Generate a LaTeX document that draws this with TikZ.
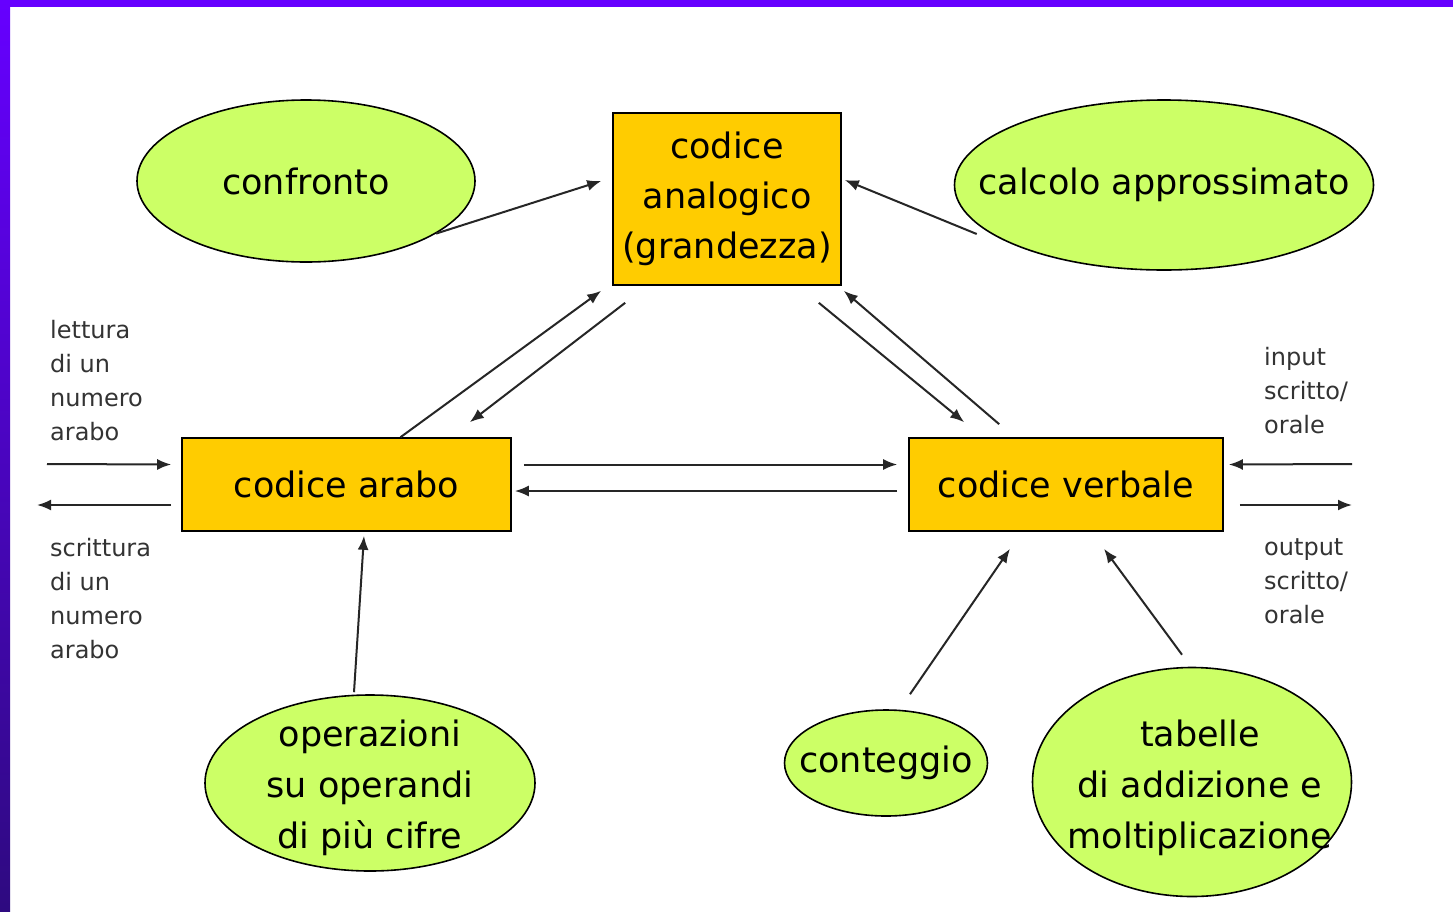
\documentclass[tikz,border=0pt]{standalone}
\usepackage{fontspec}
\setmainfont{DejaVu Sans}
\usetikzlibrary{shapes.geometric,arrows.meta,calc}
\definecolor{frameviolet}{HTML}{6600FF}
\definecolor{framedeep}{HTML}{2E0A80}
\definecolor{codeyellow}{HTML}{FFCC00}
\definecolor{blobgreen}{HTML}{CCFF66}
\tikzset{
  codebox/.style={draw=black,line width=1.6pt,fill=codeyellow,inner sep=0pt,
    align=center,font=\fontsize{35}{50}\selectfont},
  blob/.style={ellipse,draw=black,line width=1.6pt,fill=blobgreen,inner sep=0pt},
  blobtext/.style={align=center,inner sep=0pt,font=\fontsize{35}{51}\selectfont},
  note/.style={align=left,inner sep=0pt,anchor=north west,text=black!80,
    font=\fontsize{24}{34}\selectfont},
  link/.style={draw=black!85,line width=2pt,-{Latex[length=14pt,width=11pt]}}
}
\begin{document}
\begin{tikzpicture}[x=1pt,y=-1pt]
  \useasboundingbox (0,0) rectangle (1453,911);
  \fill[white] (0,0) rectangle (1453,911);
  % frame
  \fill[frameviolet] (0,0) rectangle (1453,7);
  \shade[top color=frameviolet,bottom color=framedeep] (0,0) rectangle (10,911);

  % codes
  \node[codebox,minimum width=228pt,minimum height=172pt] (ana) at (727,199)
    {codice\\analogico\\(grandezza)};
  \node[codebox,minimum width=329pt,minimum height=93pt] (arabo) at (346.5,484.5)
    {codice arabo};
  \node[codebox,minimum width=314pt,minimum height=93pt] (verb) at (1066,484.5)
    {codice verbale};

  % tasks
  \node[blob,minimum width=338pt,minimum height=162pt] (conf) at (306,181) {};
  \node[blobtext] (confT) at (conf) {confronto};
  \node[blob,minimum width=419pt,minimum height=170pt] (calc) at (1164,185) {};
  \node[blobtext] (calcT) at (calc) {calcolo approssimato};
  \node[blob,minimum width=330pt,minimum height=176pt] (oper) at (370,783) {};
  \node[blobtext] (operT) at (370,788) {operazioni\\su operandi\\di più cifre};
  \node[blob,minimum width=203pt,minimum height=106pt] (cont) at (886,763) {};
  \node[blobtext] (contT) at (cont) {conteggio};
  \node[blob,minimum width=319pt,minimum height=229pt] (tab) at (1192,782) {};
  \node[blobtext] (tabT) at (1200,788) {tabelle\\di addizione e\\moltiplicazione};

  % side notes
  \node[note] (lett) at (50,320) {lettura\\di un\\numero\\arabo};
  \node[note] (scri) at (50,538) {scrittura\\di un\\numero\\arabo};
  \node[note] (inp) at (1264,347) {input\\scritto/\\orale};
  \node[note] (outp) at (1264,538) {output\\scritto/\\orale};
  \coordinate (lin) at (47,464);
  \coordinate (lout) at (37,505);
  \coordinate (rin) at (1352,464);
  \coordinate (rout) at (1352,505);

  % links
  \draw[link] (conf.-22) -- ($(ana.west)+(-11,-18)$);
  \draw[link] ($(calc.west)+(23,49)$) -- ($(ana.east)+(3,-19)$);
  \draw[link] ($(arabo.north)+(54,0)$) -- ($(ana.south west)+(-11,5)$);
  \draw[link] ($(ana.south west)+(13,17)$) -- ($(arabo.north east)+(-42,-15)$);
  \draw[link] ($(ana.south east)+(-23,17)$) -- ($(verb.north west)+(56,-15)$);
  \draw[link] ($(verb.north west)+(91,-13)$) -- ($(ana.south east)+(2,5)$);
  \draw[link] ($(arabo.east)+(12,-20)$) -- ($(verb.west)+(-11,-20)$);
  \draw[link] ($(verb.west)+(-11,6.5)$) -- ($(arabo.east)+(3,6.5)$);
  \draw[link] (lin) -- ($(arabo.west)+(-10,-20)$);
  \draw[link] ($(arabo.west)+(-10,20.5)$) -- (lout);
  \draw[link] (rin) -- ($(verb.east)+(5,-20)$);
  \draw[link] ($(verb.east)+(16,20.5)$) -- (rout);
  \draw[link] ($(oper.north)+(-16,-2)$) -- ($(arabo.south)+(17.5,4)$);
  \draw[link] ($(cont.north)+(24,-15)$) -- ($(verb.south)+(-56,17)$);
  \draw[link] ($(tab.north)+(-10,-12)$) -- ($(verb.south)+(38,17)$);
\end{tikzpicture}
\end{document}
